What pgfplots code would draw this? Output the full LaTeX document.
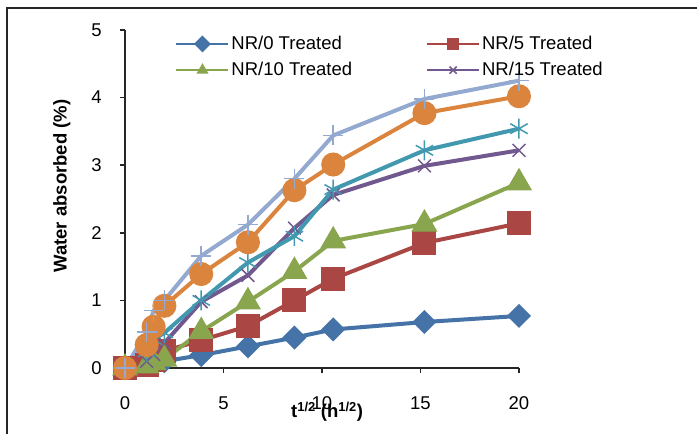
\documentclass[border=0pt]{standalone}
\usepackage{pgfplots}
\pgfplotsset{compat=1.18}
\usepackage{fontspec}
\setmainfont{Liberation Sans}
\definecolor{cA}{HTML}{4572A7}
\definecolor{cB}{HTML}{AA4643}
\definecolor{cC}{HTML}{89A54E}
\definecolor{cD}{HTML}{71588F}
\definecolor{cE}{HTML}{4198AF}
\definecolor{cF}{HTML}{DB843D}
\definecolor{cG}{HTML}{93A9CF}
\begin{document}
\fontsize{18.5}{22}\selectfont
\begin{tikzpicture}[x=1pt,y=1pt]
\useasboundingbox (0,0) rectangle (697,434);
\draw[line width=2pt, black!85] (7,0) -- (7,426) -- (697,426);
\begin{axis}[
  at={(125pt,66pt)}, anchor=south west,
  scale only axis, width=394pt, height=338pt,
  xmin=0, xmax=20, ymin=0, ymax=5,
  axis lines=left, axis line style={-, line width=1.5pt, black!85},
  xtick={0,5,10,15,20}, ytick={0,1,2,3,4,5},
  tick align=outside, major tick length=5pt,
  tick style={line width=1.5pt, black!85},
  font=\fontsize{18.5}{22}\selectfont,
  /pgf/number format/assume math mode=true,
  xticklabel style={yshift=-17pt},
  yticklabel style={xshift=-12pt},
  clip=false,
  every axis y label/.style={at={(axis description cs:-0.16,0.538)}, rotate=90, anchor=center},
  every axis x label/.style={at={(axis description cs:0.513,-0.13)}, anchor=center},
  ylabel={\textbf{Water absorbed (\%)}},
  xlabel={\textbf{t\textsuperscript{1/2} (h\textsuperscript{1/2})}},
  legend columns=2,
  legend style={draw=none, fill=none, at={(axis description cs:0.12,0.995)}, anchor=north west,
    font=\fontsize{18.5}{22}\selectfont, row sep=6pt,
    /tikz/every even column/.append style={column sep=72pt}},
  legend cell align=left,
  legend image code/.code={\draw[line width=2pt, mark size=5pt, mark repeat=2, mark phase=2] plot coordinates {(0pt,0pt) (26pt,0pt) (52pt,0pt)};},
  every axis plot/.append style={line width=4pt},
]
\addplot[cA, mark=square*, mark size=6.5pt, mark options={rotate=45, solid}] coordinates {
(0,0) (1.1,0.04) (1.45,0.07) (2,0.1) (3.87,0.19) (6.24,0.32) (8.6,0.45) (10.57,0.57) (15.2,0.68) (20,0.77)};
\addlegendentry{NR/0 Treated}
\addplot[cB, mark=square*, mark size=10pt, mark options={solid}] coordinates {
(0,0) (1.1,0.04) (1.45,0.12) (2,0.25) (3.87,0.41) (6.24,0.62) (8.6,1.0) (10.57,1.32) (15.2,1.85) (20,2.14)};
\addlegendentry{NR/5 Treated}
\addplot[cC, mark=triangle*, mark size=11pt, mark options={solid}] coordinates {
(0,0) (1.1,0.03) (1.45,0.08) (2,0.13) (3.87,0.54) (6.24,0.98) (8.6,1.43) (10.57,1.88) (15.2,2.13) (20,2.74)};
\addlegendentry{NR/10 Treated}
\addplot[cD, mark=x, mark size=9pt, mark options={solid, line width=1.5pt}] coordinates {
(0,0) (1.1,0.1) (1.45,0.2) (2,0.37) (3.87,0.98) (6.24,1.37) (8.6,2.07) (10.57,2.56) (15.2,2.99) (20,3.22)};
\addlegendentry{NR/15 Treated}
\addplot[cE, mark=asterisk, mark size=10pt, mark options={solid, line width=1.5pt}, forget plot] coordinates {
(0,0) (1.1,0.24) (1.45,0.42) (2,0.52) (3.87,1.0) (6.24,1.56) (8.6,1.95) (10.57,2.64) (15.2,3.22) (20,3.54)};
\addplot[cF, mark=*, mark size=10pt, mark options={solid}, forget plot] coordinates {
(0,0) (1.1,0.34) (1.45,0.61) (2,0.92) (3.87,1.39) (6.24,1.86) (8.6,2.63) (10.57,3.01) (15.2,3.77) (20,4.02)};
\addplot[cG, mark=+, mark size=10pt, mark options={solid, line width=1.5pt}, forget plot] coordinates {
(0,0) (1.1,0.53) (1.45,0.85) (2,1.0) (3.87,1.66) (6.24,2.12) (8.6,2.8) (10.57,3.44) (15.2,3.98) (20,4.25)};
\end{axis}
\end{tikzpicture}
\end{document}
